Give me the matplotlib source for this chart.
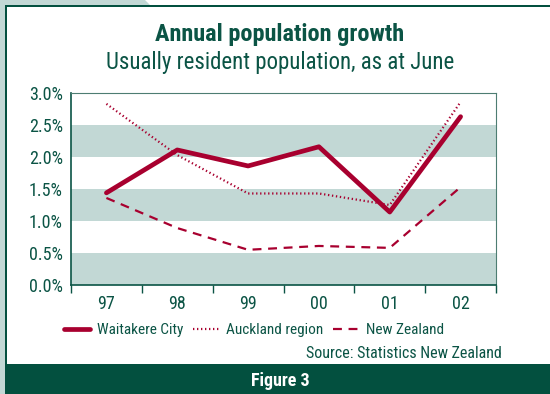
import matplotlib
matplotlib.use("Agg")
import matplotlib.pyplot as plt
import matplotlib.patches as patches
from matplotlib.lines import Line2D

# data
years = ["97", "98", "99", "00", "01", "02"]
waitakere = [1.44, 2.11, 1.86, 2.16, 1.14, 2.63]
auckland = [2.83, 2.03, 1.43, 1.43, 1.25, 2.86]
new_zealand = [1.36, 0.89, 0.55, 0.61, 0.58, 1.53]
y_ticks = [0.0, 0.5, 1.0, 1.5, 2.0, 2.5, 3.0]

GREEN = "#0b5445"
DARK = "#03503f"
PALE = "#c2d8d5"
RED = "#a8002f"
plt.rcParams["font.family"] = ["Roboto Condensed", "DejaVu Sans"]

W, H = 550, 394
fig = plt.figure(figsize=(W / 100, H / 100), dpi=100)
fig.patch.set_facecolor("white")

def px(x, y):
    return x / W, 1 - y / H

# frame: pale strips, green border, bottom band
frame = [
    patches.Polygon([px(0, 0), px(145, 0), px(150, 5), px(5, 5), px(5, H), px(0, H)],
                    closed=True, facecolor=PALE, edgecolor="none"),
    patches.Rectangle(px(5, 364), 2 / W, 359 / H, facecolor=DARK, edgecolor="none"),
    patches.Rectangle(px(5, 7), (W - 5) / W, 2 / H, facecolor=DARK, edgecolor="none"),
    patches.Rectangle(px(5, H), (W - 5) / W, 30 / H, facecolor=DARK, edgecolor="none"),
]
for p in frame:
    p.set_transform(fig.transFigure)
    fig.patches.append(p)

fig.text(280 / W, 1 - 35 / H, "Annual population growth", ha="center", va="center",
         fontsize=17.5, fontweight="bold", color=GREEN)
fig.text(280 / W, 1 - 63 / H, "Usually resident population, as at June", ha="center",
         va="center", fontsize=16.5, color=GREEN)

ax = fig.add_axes([71 / W, 1 - 285 / H, 425 / W, 192 / H])
ax.set_xlim(0, len(years))
ax.set_ylim(0, 3.0)

# alternating bands
for lo in y_ticks[:-1:2]:
    ax.axhspan(lo, lo + 0.5, color=PALE, lw=0, zorder=0)

xs = [i + 0.5 for i in range(len(years))]
ax.plot(xs, auckland, color=RED, lw=1.6, linestyle=(0, (0.6, 1.2)), zorder=3)
ax.plot(xs, new_zealand, color=RED, lw=1.6, linestyle=(0, (4, 3)), zorder=3)
ax.plot(xs, waitakere, color=RED, lw=3.4, solid_capstyle="round", zorder=4)

ax.set_yticks(y_ticks)
ax.set_yticklabels([f"{v:.1f}%" for v in y_ticks])
ax.set_xticks(range(len(years) + 1))
ax.set_xticklabels([])
ax.set_xticks(xs, minor=True)
ax.set_xticklabels(years, minor=True)
ax.tick_params(axis="x", which="major", direction="out", length=6, color=GREEN, width=1)
ax.tick_params(axis="x", which="minor", length=0, pad=7)
ax.tick_params(axis="y", length=0, pad=6)
ax.tick_params(which="both", labelsize=13, labelcolor=GREEN)
for s in ["left", "bottom"]:
    ax.spines[s].set_color(GREEN)
    ax.spines[s].set_linewidth(1.2)
for s in ["top", "right"]:
    ax.spines[s].set_color("#4d7d72")
    ax.spines[s].set_linewidth(0.8)

handles = [
    Line2D([], [], color=RED, lw=3.4, solid_capstyle="round"),
    Line2D([], [], color=RED, lw=1.6, linestyle=(0, (0.6, 1.2))),
    Line2D([], [], color=RED, lw=1.6, linestyle=(0, (4, 3))),
]
leg = fig.legend(handles, ["Waitakere City", "Auckland region", "New Zealand"],
                 loc="center left", bbox_to_anchor=(64 / W, 1 - 330 / H), ncol=3,
                 frameon=False, fontsize=11, handlelength=1.7, handletextpad=0.45,
                 columnspacing=0.65, borderaxespad=0, borderpad=0)
for t in leg.get_texts():
    t.set_color(GREEN)

fig.text(502 / W, 1 - 354 / H, "Source: Statistics New Zealand", ha="right", va="center",
         fontsize=11.5, color=GREEN)
fig.text(280 / W, 1 - 381 / H, "Figure 3", ha="center", va="center",
         fontsize=13, fontweight="bold", color="white")

fig.savefig("out.png", dpi=100, facecolor=fig.get_facecolor())
